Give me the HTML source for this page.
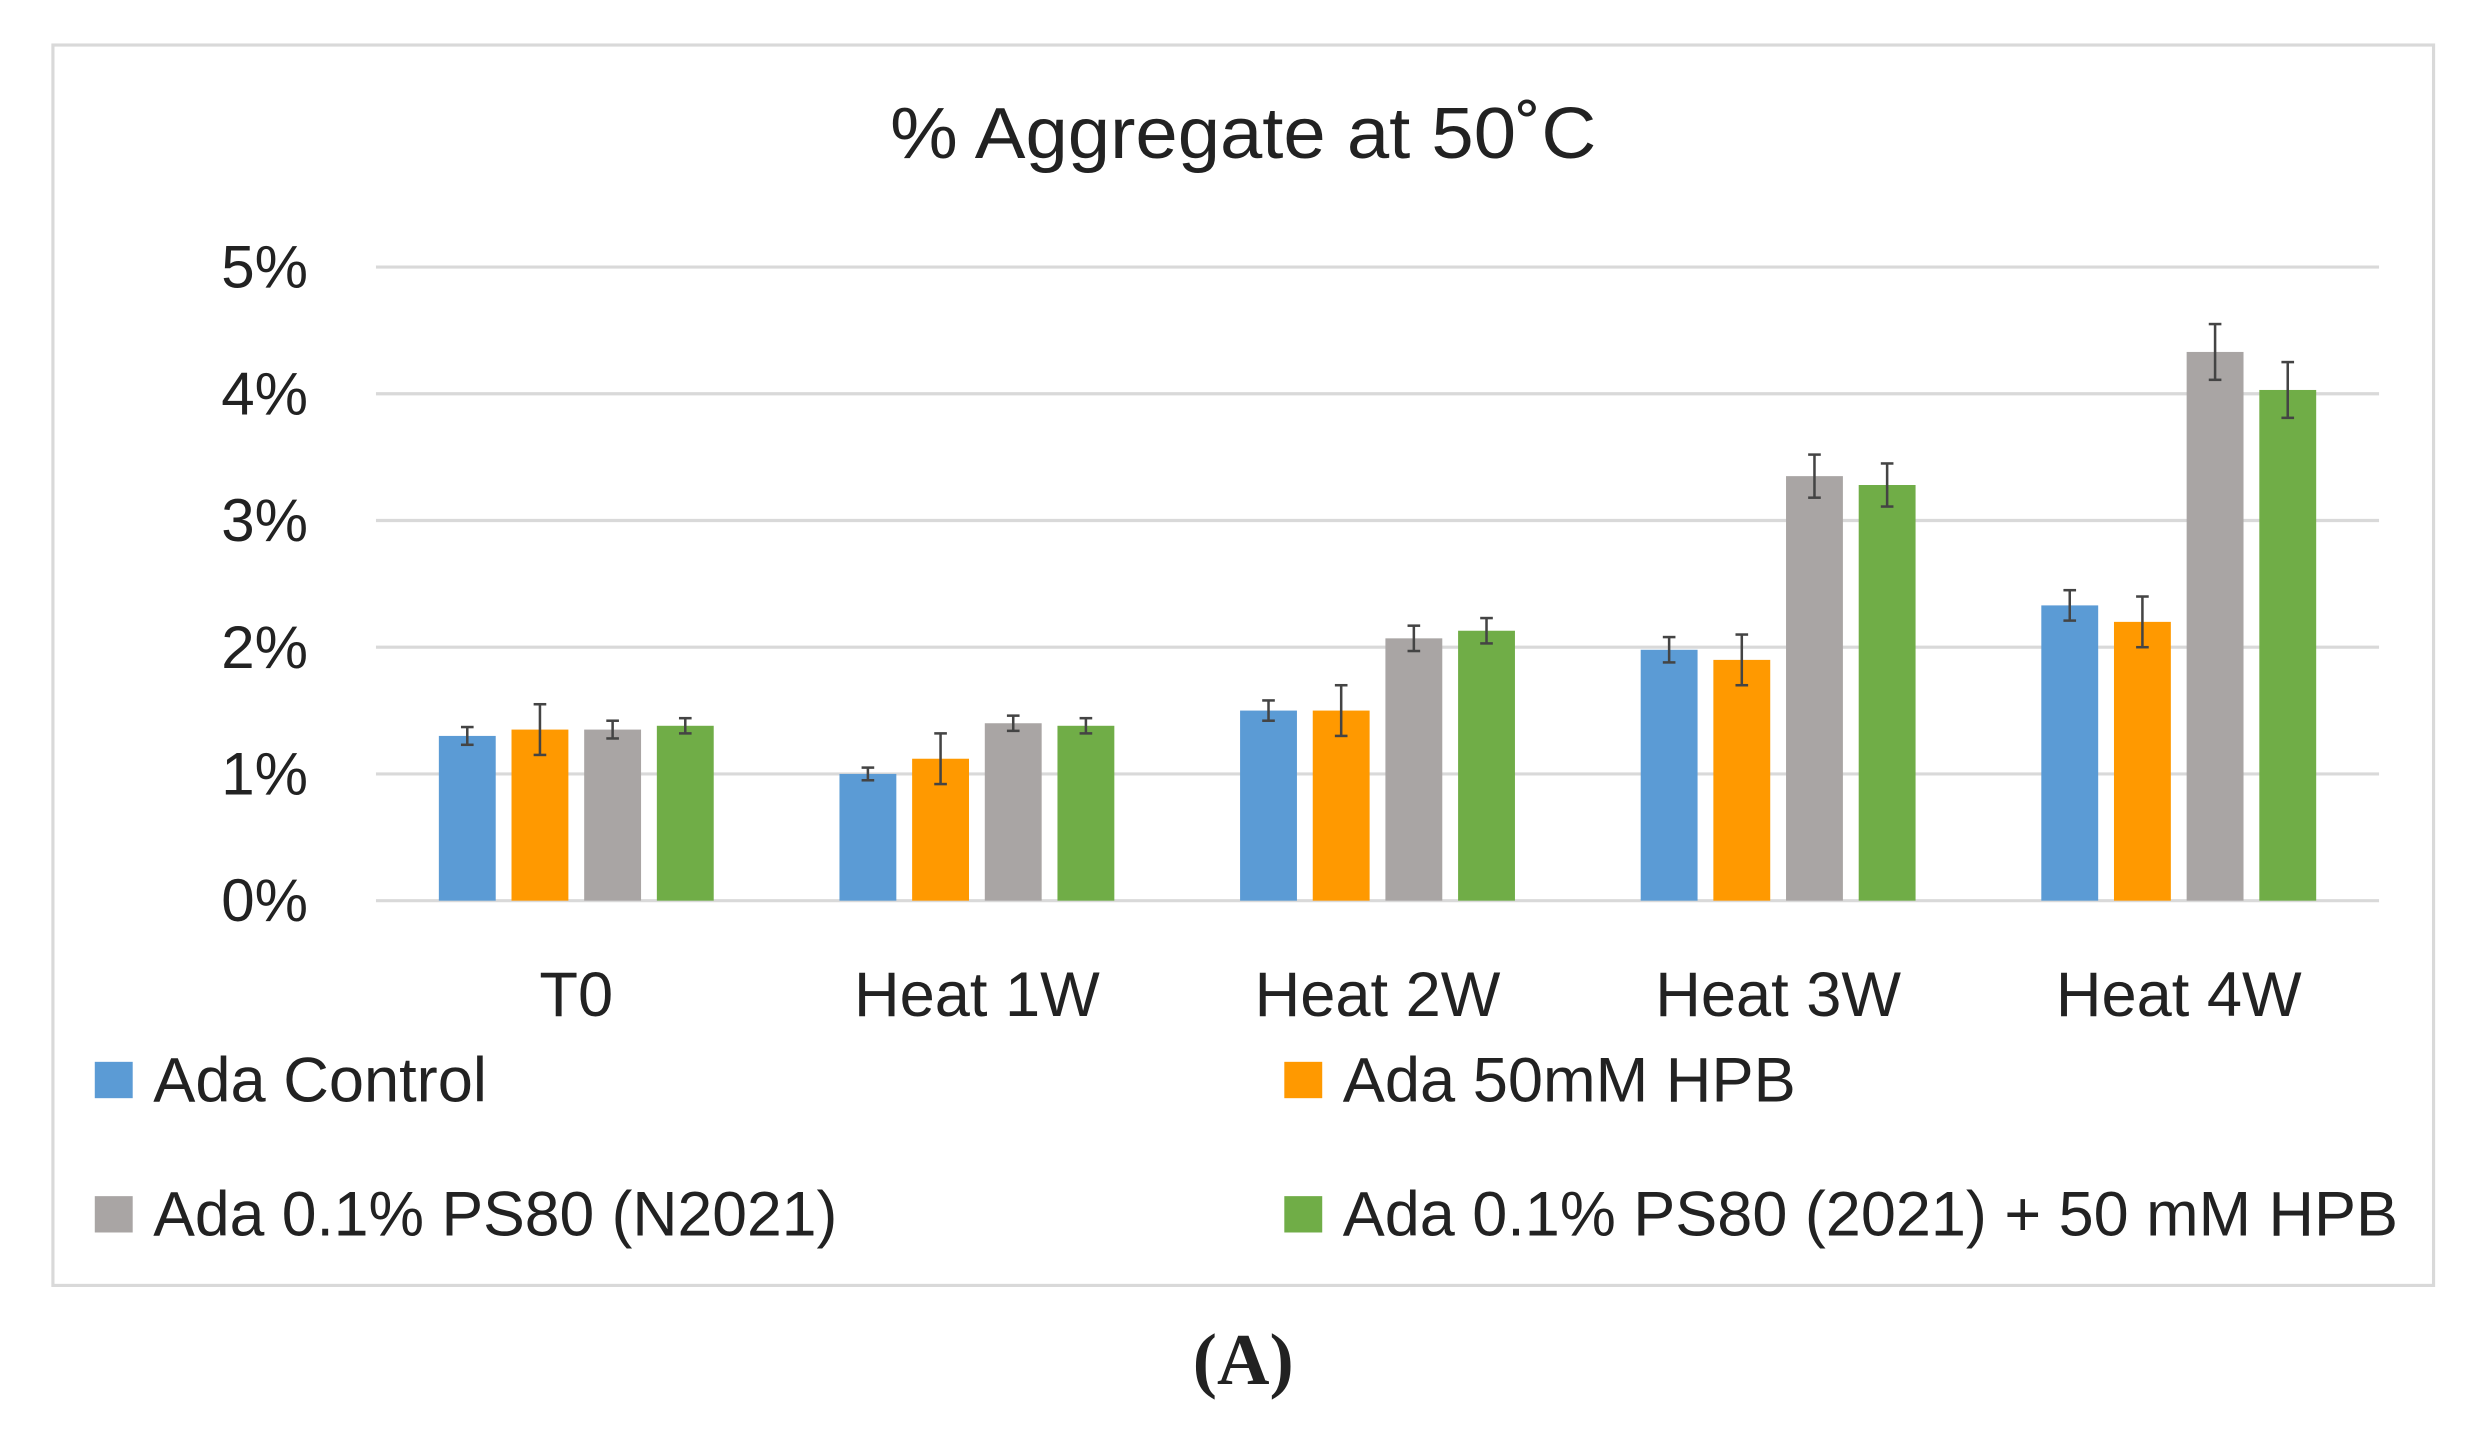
<!DOCTYPE html>
<html><head><meta charset="utf-8"><style>
html,body{margin:0;padding:0;background:#fff;}
svg{display:block;}
text{font-family:"Liberation Sans",sans-serif;fill:#222;}
</style></head><body>
<svg id="chart" width="2477" height="1430" viewBox="0 0 1568 905" preserveAspectRatio="none" xmlns="http://www.w3.org/2000/svg">
<rect x="33.5" y="28.5" width="1507" height="785" fill="#fff" stroke="#d9d9d9" stroke-width="2"/>
<text x="787" y="100" font-size="46" text-anchor="middle" textLength="447" lengthAdjust="spacingAndGlyphs">% Aggregate at 50˚C</text>
<g id="grid"></g><g id="bars"></g><g id="xlabels"></g>
<g>
<rect x="60" y="672" width="24" height="23" fill="#5b9bd5"/>
<text x="97" y="697" font-size="40">Ada Control</text>
<rect x="813" y="672" width="24" height="23" fill="#ff9900"/>
<text x="850" y="697" font-size="40">Ada 50mM HPB</text>
<rect x="60" y="757" width="24" height="23" fill="#a9a5a4"/>
<text x="97" y="782" font-size="40" textLength="433" lengthAdjust="spacingAndGlyphs">Ada 0.1% PS80 (N2021)</text>
<rect x="813" y="757" width="24" height="23" fill="#70ad47"/>
<text x="850" y="782" font-size="40" textLength="668" lengthAdjust="spacingAndGlyphs">Ada 0.1% PS80 (2021) + 50 mM HPB</text>
</g>
<text x="787" y="876" font-size="46" font-weight="bold" text-anchor="middle" style="font-family:'Liberation Serif',serif">(A)</text>
</svg>
<script>
const categories=["T0","Heat 1W","Heat 2W","Heat 3W","Heat 4W"];
const control=[1.30,1.00,1.50,1.98,2.33];
const hpb=[1.35,1.12,1.50,1.90,2.20];
const ps80=[1.35,1.40,2.07,3.35,4.33];
const ps80hpb=[1.38,1.38,2.13,3.28,4.03];
const controlErr=[0.07,0.05,0.08,0.10,0.12];
const hpbErr=[0.20,0.20,0.20,0.20,0.20];
const ps80Err=[0.07,0.06,0.10,0.17,0.22];
const ps80hpbErr=[0.06,0.06,0.10,0.17,0.22];
const yTicks=[0,1,2,3,4,5];
const yTickLabels=["0%","1%","2%","3%","4%","5%"];
const NS="http://www.w3.org/2000/svg";
const X0=238,X1=1506,Y0=570,Y5=169;
const y=v=>Y0-(v/5)*(Y0-Y5);
const bw=(X1-X0)/categories.length;
const xc=i=>X0+bw*(i+0.5);
function mk(t,a,p){const e=document.createElementNS(NS,t);for(const k in a)e.setAttribute(k,a[k]);p.appendChild(e);return e;}
const grid=document.getElementById('grid');
yTicks.forEach((t,i)=>{
  const l=mk('line',{x1:X0,x2:X1,y1:y(t),y2:y(t),stroke:'#d9d9d9','stroke-width':2},grid);
  
  
  const tx=mk('text',{x:195,y:y(t)+13,'font-size':38,'text-anchor':'end'},grid);
  tx.textContent=yTickLabels[i];
  
  
});
const series=[[control,controlErr,'#5b9bd5','control'],[hpb,hpbErr,'#ff9900','hpb'],[ps80,ps80Err,'#a9a5a4','ps80'],[ps80hpb,ps80hpbErr,'#70ad47','ps80-hpb']];
const offs=[-69,-23,23,69],W=36;
const bars=document.getElementById('bars');
categories.forEach((c,i)=>{
  series.forEach((s,j)=>{
    const v=s[0][i],e=s[1][i],cx=xc(i)+offs[j];
    const r=mk('rect',{x:cx-W/2,y:y(v),width:W,height:Y0-y(v),fill:s[2]},bars);
    
    
    const g=mk('g',{stroke:'#444','stroke-width':1.6},bars);
    
    
    mk('line',{x1:cx,x2:cx,y1:y(v+e),y2:y(v-e)},g);
    mk('line',{x1:cx-4,x2:cx+4,y1:y(v+e),y2:y(v+e)},g);
    mk('line',{x1:cx-4,x2:cx+4,y1:y(v-e),y2:y(v-e)},g);
  });
  const t=mk('text',{x:xc(i),y:643,'font-size':40,'text-anchor':'middle'},document.getElementById('xlabels'));
  t.textContent=c;
  
  
});
</script>
</body></html>
